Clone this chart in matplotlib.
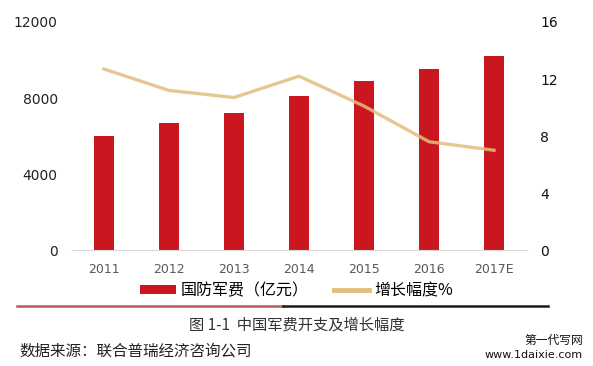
import numpy as np
import matplotlib.pyplot as plt
from matplotlib.lines import Line2D
from matplotlib.patches import Patch

plt.rcParams['font.family'] = ['Noto Sans CJK SC', 'DejaVu Sans']

# Data
years = ['2011', '2012', '2013', '2014', '2015', '2016', '2017E']
spending = [6011, 6703, 7202, 8082, 8869, 9544, 10211]    # 国防军费（亿元）
growth = [12.7, 11.2, 10.7, 12.2, 10.1, 7.6, 7.0]          # 增长幅度%

bar_color = '#C9161F'
line_color = '#E3BE7E'

fig = plt.figure(figsize=(5.93, 3.66), dpi=100)
ax = fig.add_axes([0.1206, 0.3169, 0.7673, 0.623])
x = np.arange(len(years))

ax.bar(x, spending, width=0.31, color=bar_color, zorder=2)
ax.set_xlim(-0.5, 6.5)
ax.set_ylim(0, 12000)
ax.set_yticks([0, 4000, 8000, 12000])
ax.set_xticks(x)
ax.set_xticklabels(years, family='DejaVu Sans', fontsize=9, color='#595959')
for lab in ax.get_yticklabels():
    lab.set_family('DejaVu Sans')
ax.tick_params(axis='y', length=0, pad=10, labelsize=10, labelcolor='#222222')
ax.tick_params(axis='x', length=0, pad=9)
for s in ['top', 'left', 'right']:
    ax.spines[s].set_visible(False)
ax.spines['bottom'].set_color('#D9D9D9')

ax2 = ax.twinx()
ax2.plot(x, growth, color=line_color, lw=2.4, alpha=0.85, zorder=3)
ax2.set_ylim(0, 16)
ax2.set_yticks([0, 4, 8, 12, 16])
for lab in ax2.get_yticklabels():
    lab.set_family('DejaVu Sans')
ax2.tick_params(axis='y', length=0, pad=10, labelsize=10, labelcolor='#111111')
for s in ['top', 'left', 'right', 'bottom']:
    ax2.spines[s].set_visible(False)

handles = [Patch(facecolor=bar_color, edgecolor='none'),
           Line2D([0], [0], color=line_color, lw=3.5)]
fig.legend(handles, ['国防军费（亿元）', '增长幅度%'], loc='center',
           bbox_to_anchor=(0.5, 0.205), ncol=2, frameon=False, fontsize=11.5,
           handlelength=2.2, handleheight=0.45, handletextpad=0.3, columnspacing=1.6)

# separator line under the legend
fig.add_artist(Line2D([17 / 593, 283 / 593], [1 - 305.5 / 366] * 2, color='#C05858', lw=1.8))
fig.add_artist(Line2D([283 / 593, 548 / 593], [1 - 305.5 / 366] * 2, color='#1A1A1A', lw=1.8))

fig.text(0.5, 1 - 325 / 366, '图 1-1  中国军费开支及增长幅度', ha='center', va='center',
         fontsize=11, color='#333333')
fig.text(19 / 593, 1 - 351 / 366, '数据来源：联合普瑞经济咨询公司', ha='left', va='center',
         fontsize=11.2, color='#222222')
fig.text(583 / 593, 1 - 340 / 366, '第一代写网', ha='right', va='center', fontsize=8.5, color='#111111')
fig.text(583 / 593, 1 - 355 / 366, 'www.1daixie.com', ha='right', va='center', fontsize=8,
         family='DejaVu Sans', color='#111111')

fig.savefig('out.png', dpi=100)
